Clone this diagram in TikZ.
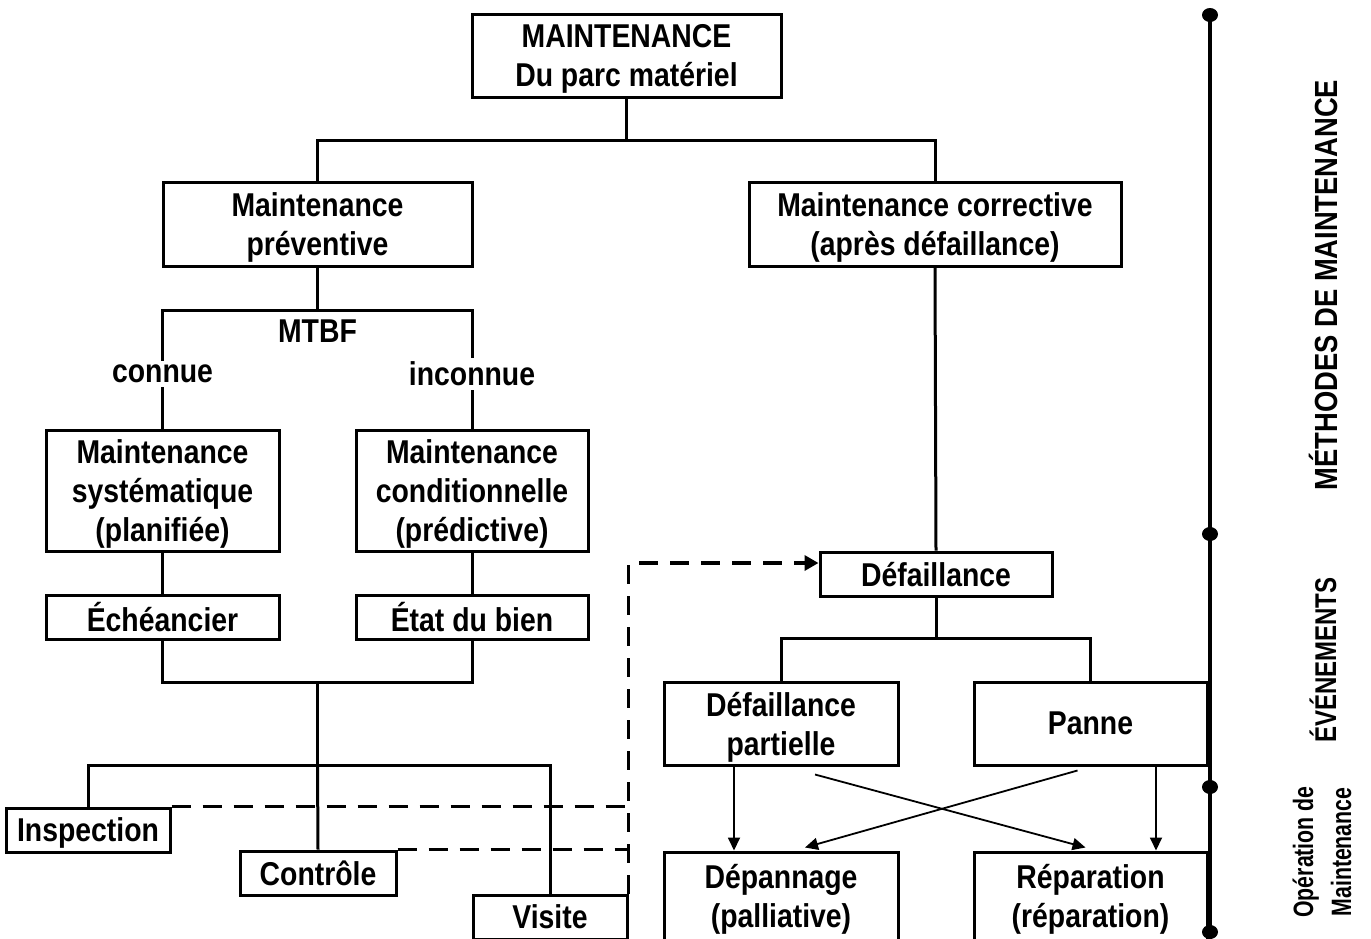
\documentclass[tikz,border=0pt]{standalone}
\usepackage{fontspec}
\newfontfamily\mainf{Liberation Sans}[FakeStretch=0.86]
\newfontfamily\narrowf{Liberation Sans}[FakeStretch=0.8]
\newfontfamily\methf{Liberation Sans}[FakeStretch=0.855]
\newfontfamily\opf{Liberation Sans}[FakeStretch=0.76]
\usetikzlibrary{arrows.meta,calc}
\begin{document}
\begin{tikzpicture}[x=1pt,y=-1pt,
  bx/.style={draw,line width=3pt,inner sep=0pt,align=center,text depth=0pt,font=\mainf\bfseries\fontsize{33}{38.8}\selectfont},
  lbl/.style={inner sep=4pt,font=\mainf\bfseries\fontsize{33}{38.8}\selectfont},
  ln/.style={line width=3pt},
  dsh/.style={line width=3.5pt,dash pattern=on 19pt off 12pt},
  arr/.style={line width=1.8pt,-{Triangle[length=13pt,width=12pt]}},
  side/.style={rotate=90,inner sep=0pt,align=center,font=\narrowf\bfseries\fontsize{30}{38}\selectfont}]
\useasboundingbox (0,0) rectangle (1371,938);
% boxes
\node[bx,minimum width=309pt,minimum height=83pt] (top) at (626.5,55.5) {MAINTENANCE\\Du parc matériel};
\node[bx,minimum width=309pt,minimum height=84pt] (prev) at (317.5,224) {Maintenance\\préventive};
\node[bx,minimum width=372pt,minimum height=84pt] (corr) at (935,224) {Maintenance corrective\\(après défaillance)};
\node[lbl] (mtbf) at (317.5,331) {MTBF};
\node[lbl] (connue) at (162.5,374) {connue};
\node[lbl] (inconnue) at (472,374) {inconnue};
\node[bx,minimum width=233pt,minimum height=121pt] (syst) at (162.5,490.5) {Maintenance\\systématique\\(planifiée)};
\node[bx,minimum width=232pt,minimum height=121pt] (cond) at (472,490.5) {Maintenance\\conditionnelle\\(prédictive)};
\node[bx,minimum width=233pt,minimum height=44pt] (ech) at (162.5,617) {Échéancier};
\node[bx,minimum width=232pt,minimum height=44pt] (etat) at (472,617) {État du bien};
\node[bx,minimum width=164pt,minimum height=44pt] (insp) at (88,830) {Inspection};
\node[bx,minimum width=156pt,minimum height=44pt] (ctrl) at (318,873) {Contrôle};
\node[bx,minimum width=154pt,minimum height=44pt] (vis) at (550,917) {Visite};
\node[bx,minimum width=232pt,minimum height=44pt] (def) at (936,574) {Défaillance};
\node[bx,minimum width=234pt,minimum height=83pt] (part) at (781,723.5) {Défaillance\\partielle};
\node[bx,minimum width=233pt,minimum height=83pt] (panne) at (1090.5,723.5) {Panne};
\node[bx,minimum width=234pt,minimum height=94pt,text depth=7pt] (dep) at (781,899) {Dépannage\\(palliative)};
\node[bx,minimum width=233pt,minimum height=94pt,text depth=7pt] (rep) at (1090.5,899) {Réparation\\(réparation)};
% junctions
\coordinate (j1) at (626.5,140);
\coordinate (j2) at (317.5,310);
\coordinate (j3) at (317.5,682);
\coordinate (j4) at (317.5,765);
\coordinate (j5) at (936,638);
% connectors
\draw[ln] (top.south) -- (j1);
\draw[ln] (prev.north) |- (j1) -| (corr.north);
\draw[ln] (prev.south) -- (j2);
\draw[ln] (connue.north) |- (j2) -| (inconnue.north);
\draw[ln] (connue.south) -- (syst.north);
\draw[ln] (inconnue.south) -- (cond.north);
\draw[ln] (syst.south) -- (ech.north);
\draw[ln] (cond.south) -- (etat.north);
\draw[ln] (ech.south) |- (j3) -| (etat.south);
\draw[ln] (j3) -- (j4);
\draw[ln] (insp.north) |- (j4) -| (vis.north);
\draw[ln] (j4) -- (ctrl.north);
\draw[ln] (corr.south) -- (def.north);
\draw[ln] (def.south) -- (j5);
\draw[ln] (part.north) |- (j5) -| (panne.north);
% dashed
\draw[dsh] (insp.north east) -- (insp.north east -| vis.east);
\draw[dsh] (ctrl.north east) -- (ctrl.north east -| vis.east);
\draw[dsh,-{Triangle[length=14pt,width=15pt]}] (vis.north east) |- ([shift={(0,-11)}]def.west);
% arrows
\draw[arr] ([shift={(-47,0)}]part.south) -- ([shift={(-47,0)}]dep.north);
\draw[arr] ([shift={(65.5,0)}]panne.south) -- ([shift={(65.5,0)}]rep.north);
\draw[arr] ([shift={(34,8)}]part.south) -- ([shift={(-5,-3)}]rep.north);
\draw[arr] ([shift={(-13,4)}]panne.south) -- ([shift={(24,-3)}]dep.north);
% axis
\coordinate (a1) at (1210,15);
\coordinate (a2) at (1210,534);
\coordinate (a3) at (1210,787);
\coordinate (a4) at (1210,932);
\draw[line width=4pt] (a1) -- (1210,945);
\foreach \p in {a1,a2,a3,a4} \fill (\p) circle[x radius=8pt,y radius=7pt];
% side labels
\node[side,font=\methf\bfseries\fontsize{32}{38}\selectfont] (m) at (1323,285) {MÉTHODES DE MAINTENANCE};
\node[side] (e) at (1323,660) {ÉVÉNEMENTS};
\node[side,font=\opf\bfseries\fontsize{28}{38}\selectfont] (o) at (1322,852) {Opération de\\Maintenance};
\end{tikzpicture}
\end{document}
